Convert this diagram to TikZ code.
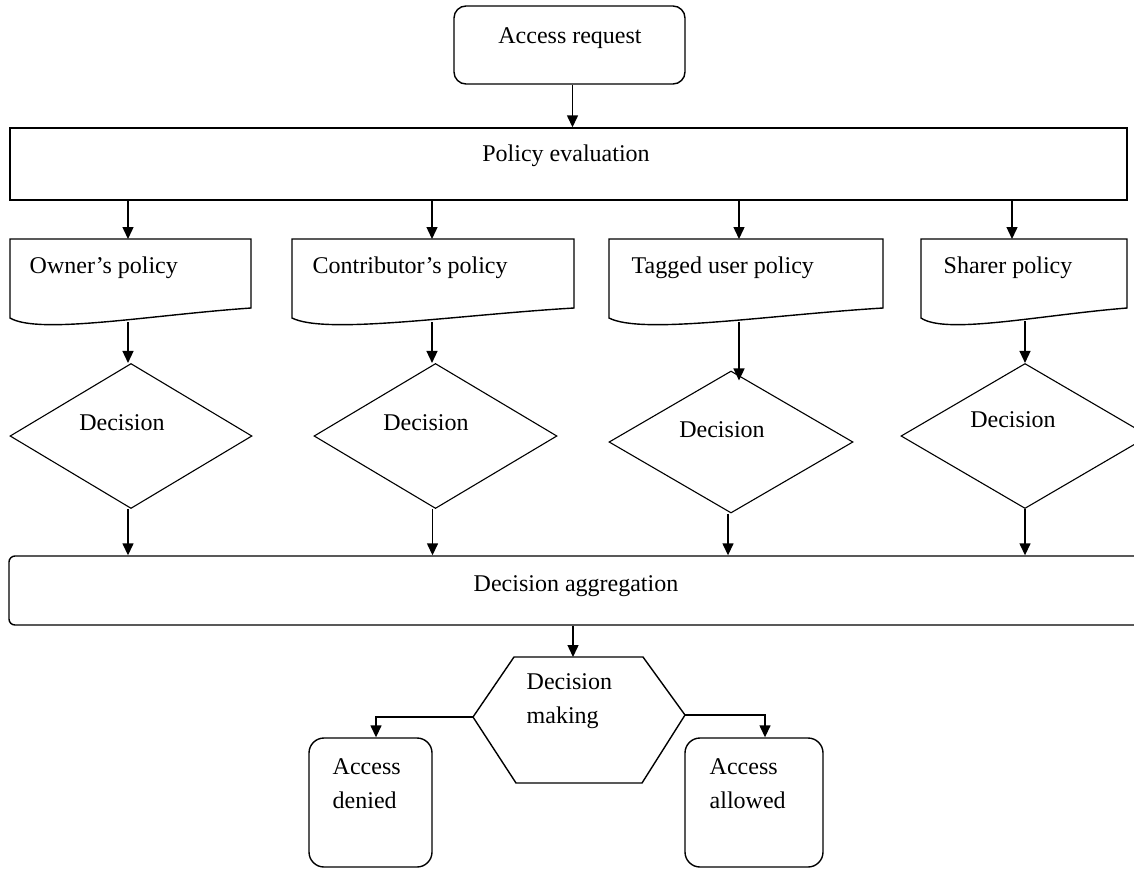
\documentclass[tikz,border=0pt]{standalone}
\usepackage{fontspec}
\setmainfont{Liberation Serif}
\usetikzlibrary{shapes.geometric,arrows.meta,calc}
\begin{document}
\begin{tikzpicture}[x=1pt,y=-1pt,
  line width=1.4pt,
  arr/.style={-{Triangle[length=12pt,width=11pt]}},
  txt/.style={font=\fontsize{24}{34}\selectfont, inner sep=0pt},
  plainbox/.style={draw, inner sep=0pt},
  dec/.style={draw, diamond, inner sep=0pt, line width=1.1pt},
  docshape/.style={draw, line width=1.4pt},
]
\useasboundingbox (0,0) rectangle (1134,868);
\clip (0,0) rectangle (1134,868);

% top boxes
\node[plainbox, rounded corners=12pt, minimum width=231pt, minimum height=78pt] (req) at (569.5,45) {};
\node[txt, anchor=base] (reqT) at (570,43) {Access request};
\node[plainbox, minimum width=1117pt, minimum height=72pt] (pe) at (568.5,164) {};
\node[txt, anchor=base] (peT) at (566,161) {Policy evaluation};
\draw[arr] ([xshift=3pt]req.south) -- ([xshift=3pt]req.south |- pe.north);

% document shapes
\draw[docshape] (10,239) -- (251,239) -- (251,308) .. controls (150,315) and (39,335) .. (10,318) -- cycle;
\draw[docshape] (292,239) -- (574,239) -- (574,308) .. controls (456,315) and (326,335) .. (292,318) -- cycle;
\draw[docshape] (609,239) -- (883,239) -- (883,308) .. controls (768,315) and (642,335) .. (609,318) -- cycle;
\draw[docshape] (921,239) -- (1127,239) -- (1127,308) .. controls (1040,315) and (946,335) .. (921,318) -- cycle;
\coordinate (o1n) at (128,239);  \coordinate (o1s) at (128,322);
\coordinate (o2n) at (432,239);  \coordinate (o2s) at (432,322);
\coordinate (o3n) at (739,239);  \coordinate (o3s) at (739,322);
\coordinate (o4n) at (1012,239); \coordinate (o4s) at (1025,321);
\node[txt, anchor=base west] (o1T) at (29,273) {Owner’s policy};
\node[txt, anchor=base west] (o2T) at (312,273) {Contributor’s policy};
\node[txt, anchor=base west] (o3T) at (631,273) {Tagged user policy};
\node[txt, anchor=base west] (o4T) at (943,273) {Sharer policy};
\foreach \c in {o1n,o2n,o3n,o4n}{\draw[arr] (\c |- pe.south) -- (\c);}

% decisions
\node[dec, minimum width=242pt, minimum height=145pt] (d1) at (131,436) {};
\node[dec, minimum width=243pt, minimum height=145pt] (d2) at (435.5,436) {};
\node[dec, minimum width=244pt, minimum height=142pt] (d3) at (731,442) {};
\node[dec, minimum width=248pt, minimum height=145pt] (d4) at (1025,436) {};
\node[txt, anchor=base] (d1T) at (122,430) {Decision};
\node[txt, anchor=base] (d2T) at (426,430) {Decision};
\node[txt, anchor=base] (d3T) at (722,437) {Decision};
\node[txt, anchor=base] (d4T) at (1013,427) {Decision};
\draw[arr] (o1s) -- (o1s |- d1.north);
\draw[arr] (o2s) -- (o2s |- d2.north);
\draw[arr] (o3s) -- ([yshift=-10pt]o3s |- d3.north);
\draw[arr] (o4s) -- (o4s |- d4.north);

% aggregation
\node[plainbox, rounded corners=6pt, minimum width=1141pt, minimum height=69pt] (agg) at (579.5,590.5) {};
\node[txt, anchor=base] (aggT) at (576,591) {Decision aggregation};
\draw[arr] ([xshift=-3pt]d1.south) -- ([xshift=-3pt]d1.south |- agg.north);
\draw[arr] ([xshift=-3pt]d2.south) -- ([xshift=-3pt]d2.south |- agg.north);
\draw[arr] ([xshift=-3pt]d3.south) -- ([xshift=-3pt]d3.south |- agg.north);
\draw[arr] (d4.south) -- (d4.south |- agg.north);

% decision making hexagon
\coordinate (hexT) at (573,657);
\coordinate (hexL) at (473,717);
\coordinate (hexR) at (685,715);
\draw (514,657) -- (643,657) -- (hexR) -- (642,783) -- (516,783) -- (hexL) -- cycle;
\node[txt, anchor=base west] (hexT1) at (526,689) {Decision};
\node[txt, anchor=base west] (hexT2) at (526,723) {making};
\draw[arr] (hexT |- agg.south) -- (hexT);

% outcomes
\node[plainbox, rounded corners=15pt, minimum width=123pt, minimum height=129pt] (den) at (370.5,802.5) {};
\node[plainbox, rounded corners=15pt, minimum width=138pt, minimum height=129pt] (alw) at (754,802.5) {};
\node[txt, anchor=base west] (denT1) at (332,774) {Access};
\node[txt, anchor=base west] (denT2) at (332,808) {denied};
\node[txt, anchor=base west] (alwT1) at (709,774) {Access};
\node[txt, anchor=base west] (alwT2) at (709,808) {allowed};
\draw[arr] (hexL) -| ([xshift=5.5pt]den.north);
\draw[arr] (hexR) -| ([xshift=11pt]alw.north);
\end{tikzpicture}
\end{document}
